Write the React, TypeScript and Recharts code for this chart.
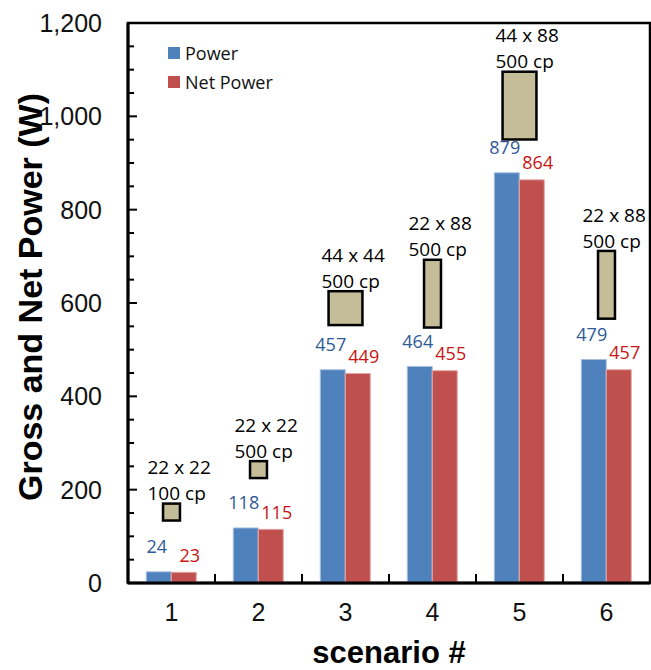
import React from "react";
import {
  Bar,
  ComposedChart,
  LabelList,
  Legend,
  Line,
  ReferenceArea,
  XAxis,
  YAxis,
} from "recharts";

const scenarios = ["1", "2", "3", "4", "5", "6"];
const power = [24, 118, 457, 464, 879, 479];
const netPower = [23, 115, 449, 455, 864, 457];

// panel size (cm) and lamp candle power drawn above each pair of bars
const panelW = [22, 22, 44, 22, 44, 22];
const panelH = [22, 22, 44, 88, 88, 88];
const candlePower = [100, 500, 500, 500, 500, 500];
const panelY = [152, 243, 589, 620, 1023, 639];

const yTicks = [
  0, 50, 100, 150, 200, 250, 300, 350, 400, 450, 500, 550, 600, 650, 700,
  750, 800, 850, 900, 950, 1000, 1050, 1100, 1150, 1200,
];

const data = scenarios.map((s, i) => ({
  scenario: s,
  power: power[i],
  netPower: netPower[i],
  boxY: panelY[i],
}));

const W = 651;
const H = 670;
const PLOT_LEFT = 128;
const PLOT_TOP = 23;
const X_AXIS_H = 87;
const PLOT_BOTTOM = H - X_AXIS_H;
const CM_PX = 0.77;

const AXIS_FONT = "'Liberation Sans', Arial, sans-serif";
const LABEL_FONT = "'Open Sans', 'Noto Sans', sans-serif";

const BLUE = "#4F81BD";
const RED = "#C0504D";

const YTick = (props: any) => {
  const { y, payload } = props;
  const v = payload.value;
  const major = v % 200 === 0;
  return (
    <g>
      <path
        d={`M${PLOT_LEFT},${y}H${PLOT_LEFT + (major ? 9 : 6)}`}
        style={{ stroke: "#000", strokeWidth: 2, fill: "none" }}
      />
      {major && (
        <text
          x={PLOT_LEFT - 26}
          y={y}
          dy="0.355em"
          textAnchor="end"
          fontFamily={AXIS_FONT}
          fontSize={25}
          fill="#111"
        >
          {v.toLocaleString("en-US")}
        </text>
      )}
    </g>
  );
};

const XTick = (props: any) => {
  const { x, payload } = props;
  const half = payload.offset || 43.5;
  return (
    <g>
      <path
        d={`M${x - half},${PLOT_BOTTOM}V${PLOT_BOTTOM - 9}`}
        style={{ stroke: "#000", strokeWidth: 2, fill: "none" }}
      />
      <text
        x={x}
        y={PLOT_BOTTOM + 20}
        dy="0.71em"
        textAnchor="middle"
        fontFamily={AXIS_FONT}
        fontSize={25}
        fill="#111"
      >
        {payload.value}
      </text>
    </g>
  );
};

const PanelBox = (props: any) => {
  const { cx, cy, index } = props;
  if (cx == null || cy == null) return <g key={`box-${index}`} />;
  const w = panelW[index] * CM_PX;
  const h = panelH[index] * CM_PX;
  const top = cy - h / 2;
  return (
    <g key={`box-${index}`}>
      <rect
        x={cx - w / 2}
        y={top}
        width={w}
        height={h}
        fill="#C4BD97"
        stroke="#000"
        strokeWidth={2.5}
      />
      <text
        x={cx - 24}
        y={top - 36}
        dy="0.35em"
        fontFamily={LABEL_FONT}
        fontSize={19}
        fill="#000"
      >
        {`${panelW[index]} x ${panelH[index]}`}
      </text>
      <text
        x={cx - 24}
        y={top - 10}
        dy="0.35em"
        fontFamily={LABEL_FONT}
        fontSize={19}
        fill="#000"
      >
        {`${candlePower[index]} cp`}
      </text>
    </g>
  );
};

const barLabel = (color: string, dx: number, dy: number) => (props: any) => {
  const { x, y, width, value } = props;
  return (
    <text
      x={x + width / 2 + dx}
      y={y - dy}
      dy="0.35em"
      textAnchor="middle"
      fontFamily={LABEL_FONT}
      fontSize={18}
      fill={color}
    >
      {value}
    </text>
  );
};

const LegendBox = () => (
  <div style={{ fontFamily: LABEL_FONT, fontSize: 18, color: "#111" }}>
    {[
      { name: "Power", color: BLUE },
      { name: "Net Power", color: RED },
    ].map((item) => (
      <div
        key={item.name}
        style={{ display: "flex", alignItems: "center", height: 29 }}
      >
        <span
          style={{
            width: 12,
            height: 12,
            background: item.color,
            marginRight: 5,
            display: "inline-block",
          }}
        />
        {item.name}
      </div>
    ))}
  </div>
);

export default function App() {
  return (
    <div style={{ position: "absolute", left: 0, top: 0, background: "#fff" }}>
      <ComposedChart
        width={W}
        height={H}
        data={data}
        margin={{ top: PLOT_TOP, right: 1, bottom: 0, left: 0 }}
        barCategoryGap="21%"
        barGap={0}
      >
        <ReferenceArea
          x1="1"
          x2="6"
          y1={0}
          y2={1200}
          fill="none"
          stroke="#000"
          strokeWidth={2.5}
          ifOverflow="visible"
        />
        <XAxis
          dataKey="scenario"
          height={X_AXIS_H}
          stroke="#000"
          strokeWidth={3}
          axisLine={{ stroke: "#000", strokeWidth: 3 }}
          tickLine={false}
          tickSize={0}
          tick={<XTick />}
          interval={0}
          label={{
            content: () => (
              <text
                x={(PLOT_LEFT + W - 1) / 2}
                y={663}
                textAnchor="middle"
                fontFamily={AXIS_FONT}
                fontWeight="bold"
                fontSize={31}
                fill="#000"
              >
                scenario #
              </text>
            ),
          }}
        />
        <YAxis
          width={PLOT_LEFT}
          domain={[0, 1200]}
          ticks={yTicks}
          interval={0}
          allowDataOverflow
          stroke="#000"
          strokeWidth={3}
          axisLine={{ stroke: "#000", strokeWidth: 3 }}
          tickLine={false}
          tickSize={0}
          tick={<YTick />}
          label={{
            content: () => (
              <text
                x={42}
                y={297}
                transform="rotate(-90, 42, 297)"
                textAnchor="middle"
                fontFamily={AXIS_FONT}
                fontWeight="bold"
                fontSize={34}
                fill="#000"
              >
                Gross and Net Power (W)
              </text>
            ),
          }}
        />
        <Legend
          layout="vertical"
          align="center"
          verticalAlign="middle"
          wrapperStyle={{ left: 168, top: 38, width: 140 }}
          content={<LegendBox />}
        />
        <Bar
          dataKey="power"
          name="Power"
          fill={BLUE}
          stroke="#A9C0DE"
          strokeWidth={1}
          isAnimationActive={false}
        >
          <LabelList dataKey="power" content={barLabel("#2E5A97", -2, 25)} />
        </Bar>
        <Bar
          dataKey="netPower"
          name="Net Power"
          fill={RED}
          stroke="#E3A9A7"
          strokeWidth={1}
          isAnimationActive={false}
        >
          <LabelList
            dataKey="netPower"
            content={barLabel("#C81414", 6, 17)}
          />
        </Bar>
        <Line
          dataKey="boxY"
          stroke="none"
          legendType="none"
          dot={PanelBox}
          activeDot={false}
          isAnimationActive={false}
        />
      </ComposedChart>
    </div>
  );
}
